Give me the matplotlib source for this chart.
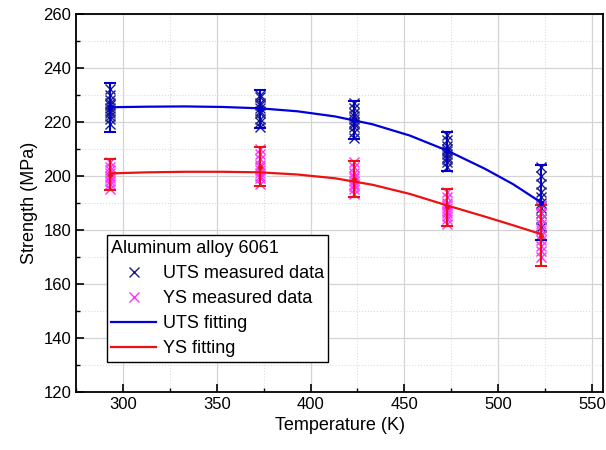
import matplotlib.pyplot as plt
from matplotlib.ticker import MultipleLocator

plt.rcParams['font.family'] = ['Liberation Sans', 'DejaVu Sans']

# Test temperatures (K)
temps = [293, 373, 423, 473, 523]

uts_measured = [
    [219, 221, 222, 223, 224, 225, 226, 227, 228, 230, 232],
    [218, 220, 221, 223, 224, 225, 226, 227, 229, 230],
    [214, 216, 218, 219, 220, 221, 222, 223, 225, 227],
    [203, 205, 206, 207, 208, 209, 210, 211, 213, 215],
    [178, 181, 184, 186, 188, 190, 192, 194, 197, 200, 203],
]
ys_measured = [
    [195, 197, 198, 199, 200, 201, 202, 203, 205],
    [197, 199, 200, 201, 202, 203, 204, 206, 208, 210],
    [193, 195, 196, 197, 198, 199, 200, 201, 203, 205],
    [182, 184, 185, 186, 187, 188, 189, 190, 192, 194],
    [170, 172, 174, 176, 178, 180, 182, 184, 186, 189],
]

# Mean and error bar half-widths
uts_mean = [225.3, 224.5, 220.5, 209.0, 190.0]
uts_err = [9.0, 7.0, 7.0, 7.3, 14.0]
ys_mean = [200.3, 203.3, 198.7, 188.2, 177.8]
ys_err = [5.7, 7.3, 6.7, 7.0, 11.3]

# Fitted curves, read at several temperatures
fit_t = [293, 313, 333, 353, 373, 393, 413, 433, 453, 473, 493, 508, 523]
uts_fit = [225.3, 225.5, 225.6, 225.4, 224.9, 223.8, 221.9, 219.0, 214.8, 209.2, 202.5, 196.8, 190.0]
ys_fit = [200.8, 201.2, 201.4, 201.4, 201.2, 200.4, 199.0, 196.6, 193.2, 188.9, 184.8, 181.6, 178.3]

fig = plt.figure(figsize=(6.06, 4.5), dpi=100)
ax = fig.add_axes([0.1254, 0.1296, 0.87, 0.8404])

# grid
ax.grid(True, which='major', color='#d4d4d4', linewidth=0.9)
ax.grid(True, which='minor', color='#dcdcdc', linewidth=0.8, linestyle=':')
ax.set_axisbelow(True)

# measured points
for i, t in enumerate(temps):
    ax.plot([t] * len(uts_measured[i]), uts_measured[i], 'x', color='#1c1c8a',
            markersize=7, markeredgewidth=1.0, label='UTS measured data' if i == 0 else None)
for i, t in enumerate(temps):
    ax.plot([t] * len(ys_measured[i]), ys_measured[i], 'x', color='#ff33ff',
            markersize=7, markeredgewidth=1.0, label='YS measured data' if i == 0 else None)

# error bars
ax.errorbar(temps, uts_mean, yerr=uts_err, fmt='o', color='#0000cc', markersize=3,
            capsize=4, elinewidth=1.5, capthick=1.5)
ax.errorbar(temps, ys_mean, yerr=ys_err, fmt='o', color='#ee1111', markersize=2.5,
            capsize=4, elinewidth=1.5, capthick=1.5)

# fitting lines
ax.plot(fit_t, uts_fit, '-', color='#0000dd', linewidth=1.6, label='UTS fitting')
ax.plot(fit_t, ys_fit, '-', color='#ee1111', linewidth=1.6, label='YS fitting')

ax.set_xlim(275, 556)
ax.set_ylim(120, 260)
ax.xaxis.set_major_locator(MultipleLocator(50))
ax.xaxis.set_minor_locator(MultipleLocator(25))
ax.yaxis.set_major_locator(MultipleLocator(20))
ax.yaxis.set_minor_locator(MultipleLocator(10))
ax.tick_params(which='major', direction='in', length=6, width=1.2, labelsize=12)
ax.tick_params(which='minor', direction='in', length=3, width=1.0)
for s in ax.spines.values():
    s.set_linewidth(1.3)

ax.set_xlabel('Temperature (K)', fontsize=13)
ax.set_ylabel('Strength (MPa)', fontsize=13)

leg = ax.legend(title='Aluminum alloy 6061', loc='lower left', bbox_to_anchor=(0.058, 0.079),
                fontsize=13, title_fontsize=13, frameon=True, fancybox=False,
                edgecolor='black', framealpha=1, handlelength=2.5,
                borderpad=0.25, labelspacing=0.45, handletextpad=0.35,
                borderaxespad=0)
leg._legend_box.align = 'left'
leg.get_frame().set_linewidth(1.0)

fig.savefig('out.png', dpi=100)
